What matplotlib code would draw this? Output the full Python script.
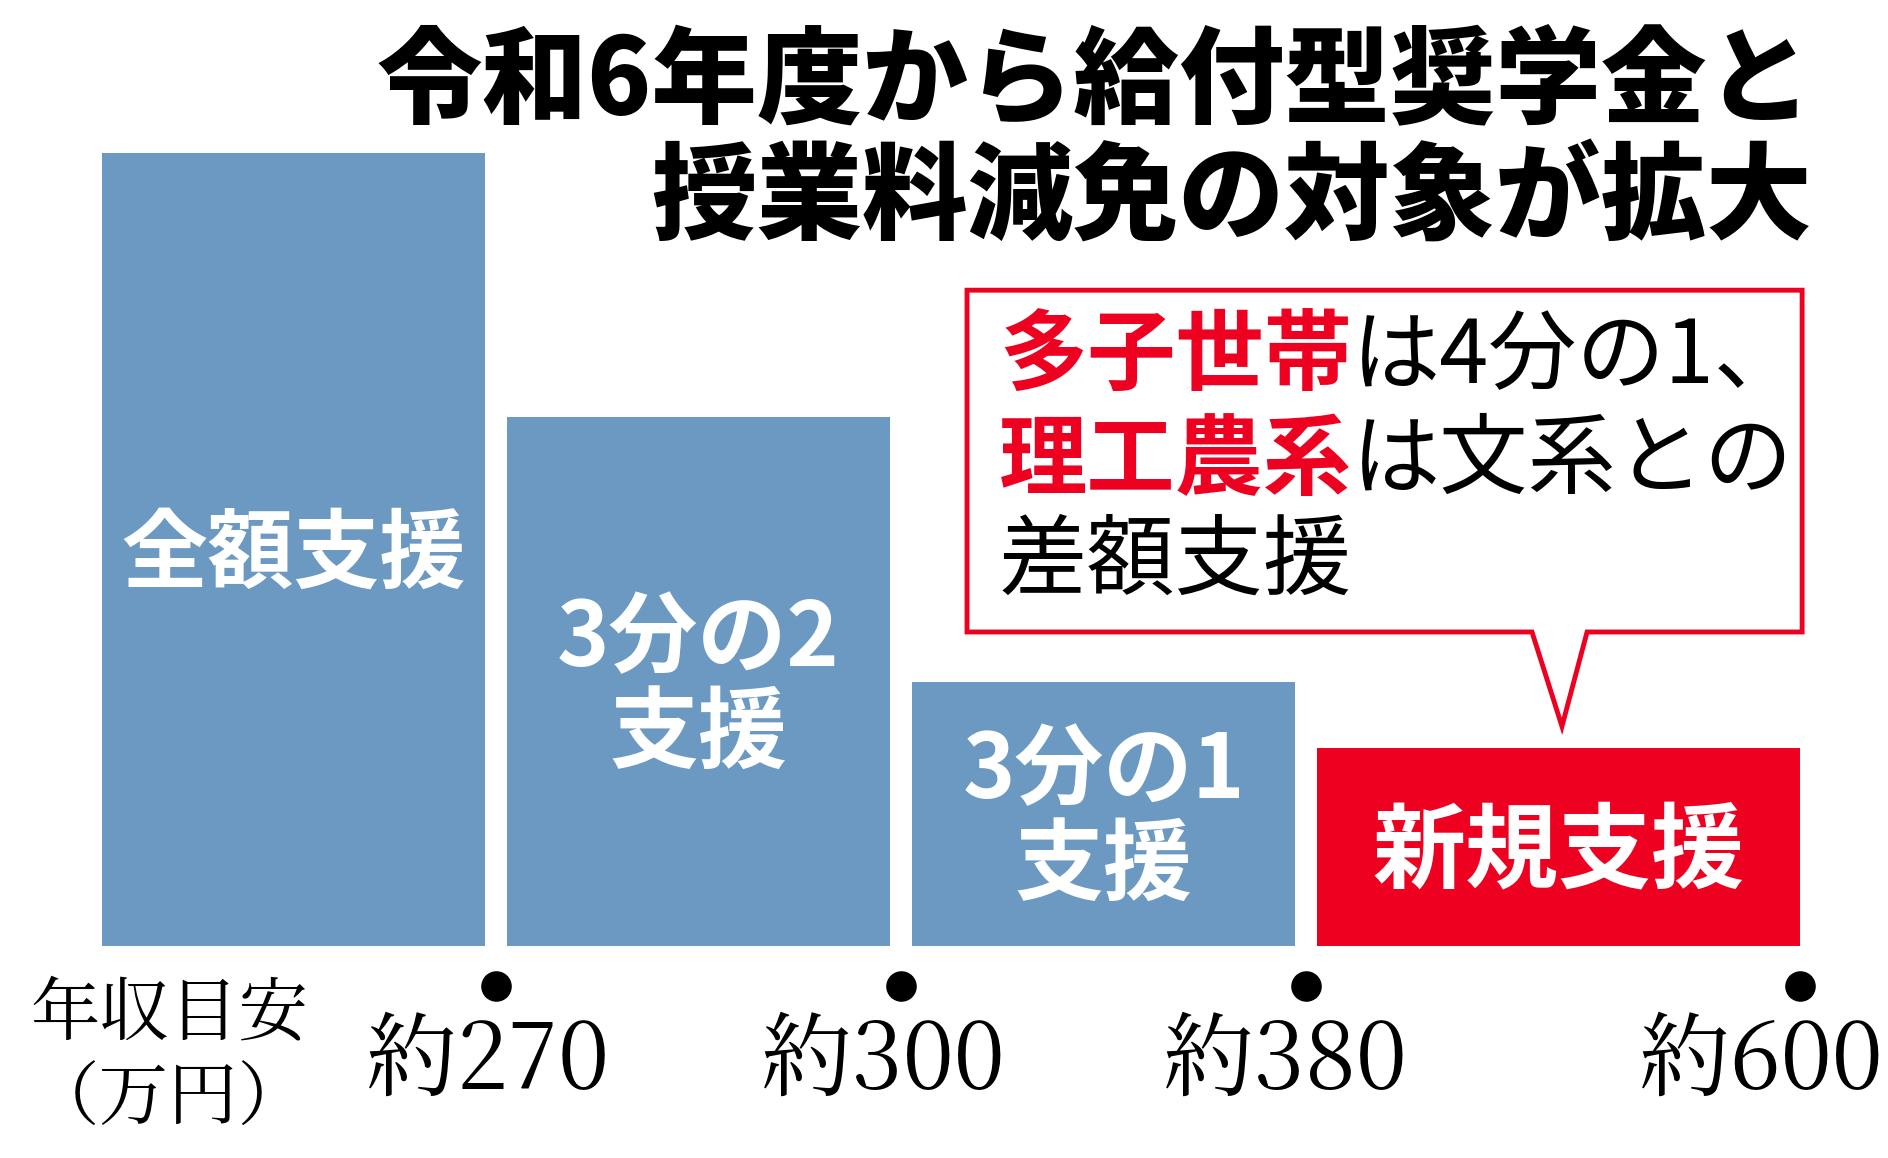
import matplotlib.pyplot as plt
from matplotlib.patches import Polygon

plt.rcParams['font.family'] = ['Noto Sans CJK JP', 'DejaVu Sans']

# データ
support_labels = ['全額支援', '3分の2\n支援', '3分の1\n支援', '新規支援']
support_share = [1, 2 / 3, 1 / 3, 1 / 4]
income_labels = ['約270', '約300', '約380', '約600']
title = '令和6年度から給付型奨学金と\n授業料減免の対象が拡大'
note_lines = [('多子世帯', 'は4分の1、'), ('理工農系', 'は文系との'), ('', '差額支援')]

BLUE = '#6b99c2'
RED = '#ee0020'

# 区切り位置（模式図なので等間隔ではない）
bounds = [0, 1, 2, 3, 4.22]
gap = 0.026

fig = plt.figure(figsize=(18.88, 11.58), dpi=100)
ax = fig.add_axes([0, 0, 1, 1])
ax.set_xlim(-91 / 405, 1797 / 405)
ax.set_ylim(-212 / 793, 946 / 793)
ax.axis('off')

lefts = [b + gap for b in bounds[:-1]]
rights = [b - gap for b in bounds[1:]]
rights[-1] = bounds[-1]
widths = [r - l for l, r in zip(lefts, rights)]
colors = [BLUE, BLUE, BLUE, RED]
ax.bar(lefts, support_share, width=widths, align='edge', color=colors, linewidth=0)

sizes = [62, 64, 64, 67]
for l, w, h, lab, fs in zip(lefts, widths, support_share, support_labels, sizes):
    ax.text(l + w / 2, h / 2 - 0.007, lab, ha='center', va='center', color='white',
            fontsize=fs, fontweight='bold', linespacing=1.07)

# 年収目安の点とラベル
serif = ['Noto Serif CJK JP', 'Liberation Serif', 'Noto Sans CJK JP']
ax.plot(bounds[1:], [-0.05] * 4, 'o', color='black', markersize=21, clip_on=False)
shift = [-0.02, -0.045, -0.05, -0.095]
for b, s, lab in zip(bounds[1:], shift, income_labels):
    ax.text(b + s, -0.148, lab, ha='center', va='center', fontsize=66, family=serif)
ax.text(0.193, -0.142, '年収目安\n（万円）', ha='center', va='center', fontsize=50,
        linespacing=1.2, family=serif)

# タイトル
fig.text(1812 / 1888, 1 - 141 / 1158, title, ha='right', va='center', fontsize=76,
         fontweight='black', linespacing=1.12)

# 吹き出し
x0, x1, y0, y1 = 2.163, 4.225, 0.396, 0.827
callout = Polygon([(x0, y1), (x1, y1), (x1, y0), (3.694, y0), (3.632, 0.277),
                   (3.558, y0), (x0, y0)], closed=True, facecolor='white',
                  edgecolor=RED, linewidth=3.5, joinstyle='miter')
ax.add_patch(callout)

line_y = [0.741, 0.610, 0.483]
for (red_part, black_part), y in zip(note_lines, line_y):
    t = ax.text(2.242, y, red_part, ha='left', va='center', fontsize=63.5,
                fontweight='bold', color=RED)
    ax.annotate(black_part, xy=(1, 0.5), xycoords=t, ha='left', va='center',
                fontsize=63.5, color='black')

fig.savefig('out.png', dpi=100)
